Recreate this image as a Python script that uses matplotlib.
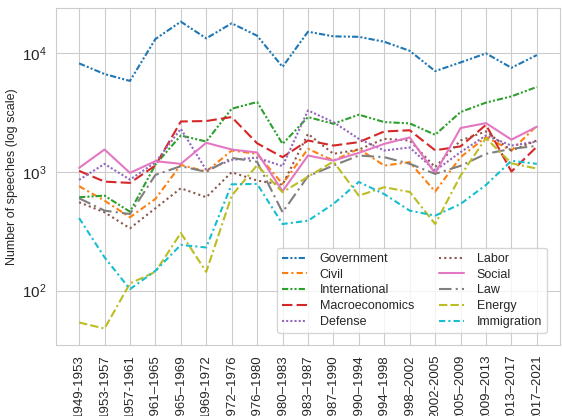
import matplotlib
matplotlib.use("Agg")
import matplotlib.pyplot as plt
import seaborn as sns

sns.set_style("whitegrid")
plt.rcParams['font.family'] = ['Liberation Sans', 'DejaVu Sans']

# Parliamentary periods
periods = ["1949-1953", "1953-1957", "1957-1961", "1961–1965", "1965–1969", "1969-1972",
           "1972–1976", "1976–1980", "1980–1983", "1983–1987", "1987–1990", "1990–1994",
           "1994–1998", "1998–2002", "2002-2005", "2005–2009", "2009–2013", "2013–2017",
           "2017–2021"]

# speeches per topic
government = [8190, 6660, 5830, 13130, 18380, 13300, 17800, 14000, 7660, 15130,
              13830, 13700, 12450, 10450, 7050, 8340, 9940, 7520, 9620]
civil = [758, 573, 415, 592, 1146, 1006, 1513, 1419, 792, 1563,
         1245, 1563, 1130, 1207, 682, 1330, 1963, 1513, 2450]
international = [612, 631, 462, 1150, 2024, 1800, 3402, 3873, 1721, 2893,
                 2540, 3030, 2625, 2560, 2052, 3190, 3830, 4320, 5190]
macroeconomics = [1020, 828, 808, 1130, 2656, 2680, 2893, 1740, 1330, 1838,
                  1666, 1780, 2189, 2240, 1520, 1640, 2490, 1006, 1630]
defense = [856, 1168, 861, 1200, 2306, 1035, 1262, 1318, 1117, 3290,
           2625, 1897, 1513, 1605, 1025, 1466, 2024, 1666, 1800]
labor = [555, 457, 335, 494, 728, 612, 994, 845, 780, 2091,
         1419, 1540, 1897, 1838, 1095, 1838, 2189, 1513, 1838]
social = [1081, 1543, 981, 1231, 1168, 1757, 1543, 1456, 688, 1373,
          1245, 1446, 1721, 1950, 970, 2340, 2573, 1868, 2400]
law = [600, 472, 442, 943, 1117, 1000, 1312, 1215, 457, 920,
       1130, 1373, 1330, 1170, 962, 1125, 1419, 1563, 1656]
energy = [54, 48, 115, 144, 306, 144, 631, 1138, 674, 910,
          1222, 631, 743, 678, 364, 931, 1924, 1180, 1067]
immigration = [409, 191, 103, 147, 243, 231, 786, 792, 364, 388,
               537, 823, 650, 472, 428, 537, 777, 1242, 1168]

topics = ["Government", "Civil", "International", "Macroeconomics", "Defense",
          "Labor", "Social", "Law", "Energy", "Immigration"]
series = [government, civil, international, macroeconomics, defense,
          labor, social, law, energy, immigration]
styles = [(0, (3, 1, 1, 1, 1, 1)), (0, (3, 1.5, 1, 1.5)), (0, (3, 1, 1, 1, 1, 1)),
          (0, (5, 2)), (0, (1, 1)), (0, (1, 1.5)), '-', (0, (6, 2, 1, 2)),
          (0, (4, 1.5, 4, 1.5, 1, 1.5)), (0, (3, 1.5, 1, 1.5))]
colors = plt.cm.tab10.colors

fig, ax = plt.subplots(figsize=(5.62, 4.16), dpi=100)
for name, vals, ls, c in zip(topics, series, styles, colors):
    ax.plot(periods, vals, linestyle=ls, color=c, linewidth=1.5, label=name)

ax.set_yscale('log')
ax.set_ylim(35, 24000)
ax.set_ylabel('Number of speeches (log scale)', fontsize=9, labelpad=3)
ax.tick_params(axis='x', rotation=90, labelsize=9.5)
ax.tick_params(axis='y', labelsize=11)
ax.minorticks_off()
ax.legend(ncol=2, loc='lower right', bbox_to_anchor=(0.987, 0.017), fontsize=9,
          handlelength=2.0, handletextpad=1.0, columnspacing=2.0, labelspacing=0.3)

fig.subplots_adjust(left=0.1, right=0.996, top=0.981, bottom=0.171)
fig.savefig('out.png')
